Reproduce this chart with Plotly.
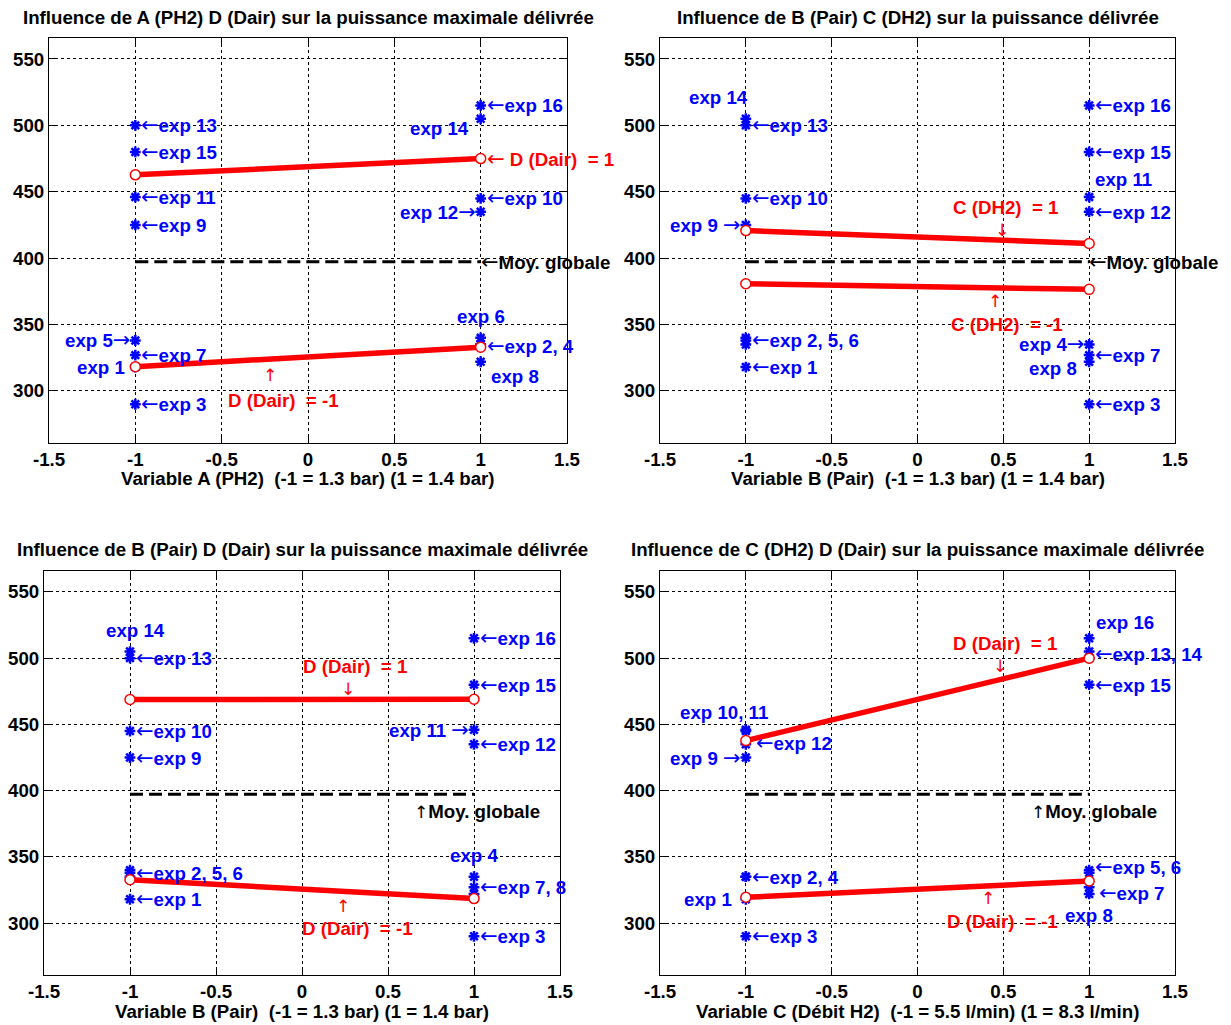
import plotly.graph_objects as go

# ---------------- data ----------------
exp_ids = list(range(1, 17))
puissance = [318, 335, 290, 335, 338, 340, 327, 322,
             425, 445, 446, 435, 500, 505, 480, 515]
fact_A = [-1, 1] * 8
fact_B = [-1, -1, 1, 1] * 4
fact_C = ([-1] * 4 + [1] * 4) * 2
fact_D = [-1] * 8 + [1] * 8
levels = [-1, 1]

titles = [
    "Influence de A (PH2) D (Dair) sur la puissance maximale délivrée",
    "Influence de B (Pair) C (DH2) sur la puissance délivrée",
    "Influence de B (Pair) D (Dair) sur la puissance maximale délivrée",
    "Influence de C (DH2) D (Dair) sur la puissance maximale délivrée",
]
xlabels = [
    "Variable A (PH2) \u00a0(-1 = 1.3 bar) (1 = 1.4 bar)",
    "Variable B (Pair) \u00a0(-1 = 1.3 bar) (1 = 1.4 bar)",
    "Variable B (Pair) \u00a0(-1 = 1.3 bar) (1 = 1.4 bar)",
    "Variable C (Débit H2) \u00a0(-1 = 5.5 l/min) (1 = 8.3 l/min)",
]
xtick_vals = [-1.5, -1, -0.5, 0, 0.5, 1, 1.5]
xtick_text = ["-1.5", "-1", "-0.5", "0", "0.5", "1", "1.5"]
ytick_vals = [300, 350, 400, 450, 500, 550]
ytick_text = ["300", "350", "400", "450", "500", "550"]

panels = [(fact_A, fact_D), (fact_B, fact_C), (fact_B, fact_D), (fact_C, fact_D)]

# ---------------- layout geometry (pixels) ----------------
W, H = 1231, 1025
boxes = [  # left, right, top, bottom
    (49, 567, 38, 443),
    (660, 1175, 38, 443),
    (44, 560, 571, 975),
    (660, 1175, 571, 975),
]
title_y = [17, 17, 549, 549]
xlab_y = [479, 479, 1011, 1011]
YRANGE = [260.8, 565.8]

FONT = "Liberation Sans, Arial, sans-serif"
FS = 18.7
BLUE = "#0000FF"
RED = "#FF0000"

H_STYLE = "font-family:'DejaVu Sans';font-weight:normal;font-size:21px"
V_STYLE = "font-family:'DejaVu Sans';font-weight:normal;font-size:17px"
def arr(ch, style):
    return "<span style=\"%s\">%s</span>" % (style, ch)

L_, R_ = arr("←", H_STYLE), arr("→", H_STYLE)
U_, D_ = arr("↑", V_STYLE), arr("↓", V_STYLE)

P = puissance
def pt(i):
    return P[i - 1]

# labels: (text, x, y, anchor, xshift, color)
labels = [
    [  # panel 1: A vs D
        (L_ + "exp 13", -1, pt(13), "left", 4, BLUE),
        (L_ + "exp 15", -1, pt(15), "left", 4, BLUE),
        (L_ + "exp 11", -1, pt(11), "left", 4, BLUE),
        (L_ + "exp 9", -1, pt(9), "left", 4, BLUE),
        ("exp 5" + R_, -1, pt(5), "right", -3, BLUE),
        (L_ + "exp 7", -1, pt(7), "left", 4, BLUE),
        ("exp 1", -1, pt(1), "right", -8, BLUE),
        (L_ + "exp 3", -1, pt(3), "left", 4, BLUE),
        (L_ + "exp 16", 1, pt(16), "left", 4, BLUE),
        ("exp 14", 0.945, 498, "right", 0, BLUE),
        (L_ + "exp 10", 1, pt(10), "left", 4, BLUE),
        ("exp 12" + R_, 1, pt(12), "right", -3, BLUE),
        ("exp 6", 1, 356, "center", 0, BLUE),
        (L_ + "exp 2, 4", 1, 334, "left", 4, BLUE),
        ("exp 8", 1.05, 311, "left", 0, BLUE),
        (L_ + " D (Dair)\u00a0 = 1", 1, "hi1", "left", 4, RED),
        (U_, -0.22, 312, "center", 0, RED),
        ("D (Dair)\u00a0 = -1", -0.14, 293, "center", 0, RED),
        (L_ + "Moy. globale", 1, "gm", "left", -2, "black"),
    ],
    [  # panel 2: B vs C
        ("exp 14", -1, 521, "right", 4, BLUE),
        (L_ + "exp 13", -1, pt(13), "left", 4, BLUE),
        (L_ + "exp 10", -1, pt(10), "left", 4, BLUE),
        ("exp 9 " + R_, -1, pt(9), "right", -3, BLUE),
        (L_ + "exp 16", 1, pt(16), "left", 4, BLUE),
        (L_ + "exp 15", 1, pt(15), "left", 4, BLUE),
        ("exp 11", 1.02, 459, "left", 0, BLUE),
        (L_ + "exp 12", 1, pt(12), "left", 4, BLUE),
        (L_ + "exp 2, 5, 6", -1, 338, "left", 4, BLUE),
        (L_ + "exp 1", -1, pt(1), "left", 4, BLUE),
        ("exp 4" + R_, 1, pt(4), "right", -3, BLUE),
        (L_ + "exp 7", 1, pt(7), "left", 4, BLUE),
        ("exp 8", 0.94, 317, "right", 0, BLUE),
        (L_ + "exp 3", 1, pt(3), "left", 4, BLUE),
        ("C (DH2)\u00a0 = 1", 0.51, 438, "center", 0, RED),
        (D_, 0.49, 421, "center", 0, RED),
        (U_, 0.45, 368, "center", 0, RED),
        ("C (DH2)\u00a0 = -1", 0.52, 350, "center", 0, RED),
        (L_ + "Moy. globale", 1, "gm", "left", -2, "black"),
    ],
    [  # panel 3: B vs D
        ("exp 14", -0.97, 521, "center", 0, BLUE),
        (L_ + "exp 13", -1, pt(13), "left", 4, BLUE),
        (L_ + "exp 10", -1, pt(10), "left", 4, BLUE),
        (L_ + "exp 9", -1, pt(9), "left", 4, BLUE),
        (L_ + "exp 16", 1, pt(16), "left", 4, BLUE),
        (L_ + "exp 15", 1, pt(15), "left", 4, BLUE),
        ("exp 11 " + R_, 1, pt(11), "right", -3, BLUE),
        (L_ + "exp 12", 1, pt(12), "left", 4, BLUE),
        (L_ + "exp 2, 5, 6", -1, 338, "left", 4, BLUE),
        (L_ + "exp 1", -1, pt(1), "left", 4, BLUE),
        ("exp 4", 1, 351, "center", 0, BLUE),
        (L_ + "exp 7, 8", 1, 327, "left", 4, BLUE),
        (L_ + "exp 3", 1, pt(3), "left", 4, BLUE),
        ("D (Dair)\u00a0 = 1", 0.31, 494, "center", 0, RED),
        (D_, 0.27, 477, "center", 0, RED),
        (U_, 0.24, 313, "center", 0, RED),
        ("D (Dair)\u00a0 = -1", 0.32, 296, "center", 0, RED),
        (U_ + "Moy. globale", 0.64, 384, "left", 0, "black"),
    ],
    [  # panel 4: C vs D
        ("exp 16", 1.03, 527, "left", 0, BLUE),
        (L_ + "exp 13, 14", 1, 503, "left", 4, BLUE),
        (L_ + "exp 15", 1, pt(15), "left", 4, BLUE),
        ("exp 10, 11", -1.13, 459, "center", 0, BLUE),
        (L_ + "exp 12", -1, 436, "left", 8, BLUE),
        ("exp 9 " + R_, -1, pt(9), "right", -3, BLUE),
        (L_ + "exp 2, 4", -1, 335, "left", 4, BLUE),
        ("exp 1", -1, pt(1), "right", -12, BLUE),
        (L_ + "exp 3", -1, pt(3), "left", 4, BLUE),
        (L_ + "exp 5, 6", 1, 342, "left", 4, BLUE),
        (L_ + "exp 7", 1, 322.5, "left", 8, BLUE),
        ("exp 8", 1, 306, "center", 0, BLUE),
        ("D (Dair)\u00a0 = 1", 0.51, 511, "center", 0, RED),
        (D_, 0.48, 494, "center", 0, RED),
        (U_, 0.41, 319, "center", 0, RED),
        ("D (Dair)\u00a0 = -1", 0.495, 301, "center", 0, RED),
        (U_ + "Moy. globale", 0.65, 384, "left", 0, "black"),
    ],
]

def mean(vals):
    return sum(vals) / len(vals)

global_mean = mean(puissance)

fig = go.Figure()
annotations = []

for k, (fx, fl) in enumerate(panels):
    n = "" if k == 0 else str(k + 1)
    xa, ya = "x" + n, "y" + n
    l, r, t, b = boxes[k]
    axis_common = dict(
        showgrid=True, gridcolor="black", griddash="dot", gridwidth=1,
        zeroline=False, showline=True, linecolor="black", linewidth=1,
        mirror="ticks", ticks="inside", ticklen=6, tickcolor="black",
        automargin=False,
        tickfont=dict(family=FONT, size=FS, color="black", weight="bold"),
    )
    fig.layout["xaxis" + n] = dict(
        domain=[l / W, r / W], range=[-1.5, 1.5], anchor=ya,
        tickvals=xtick_vals, ticktext=xtick_text, **axis_common)
    fig.layout["yaxis" + n] = dict(
        domain=[1 - b / H, 1 - t / H], range=YRANGE, anchor=xa,
        tickvals=ytick_vals, ticktext=ytick_text, **axis_common)

    # experiment points
    fig.add_trace(go.Scatter(
        x=fx, y=puissance, mode="markers", xaxis=xa, yaxis=ya,
        marker=dict(symbol="asterisk-open", size=9, color=BLUE,
                    line=dict(color=BLUE, width=2.5)),
        showlegend=False, hoverinfo="skip"))

    # interaction lines (means)
    line_ends = {}
    for lv in levels:
        ys = []
        for xv in levels:
            sel = [p for p, a, d in zip(puissance, fx, fl) if a == xv and d == lv]
            ys.append(mean(sel))
        line_ends[lv] = ys
        fig.add_trace(go.Scatter(
            x=levels, y=ys, mode="lines+markers", xaxis=xa, yaxis=ya,
            line=dict(color=RED, width=5.5),
            marker=dict(symbol="circle", size=10, color="white",
                        line=dict(color=RED, width=1.5)),
            showlegend=False, hoverinfo="skip"))

    # global mean
    fig.add_trace(go.Scatter(
        x=levels, y=[global_mean, global_mean], mode="lines",
        xaxis=xa, yaxis=ya,
        line=dict(color="black", width=3, dash="13px,6px"),
        showlegend=False, hoverinfo="skip"))

    for (txt, x, y, anc, xs, col) in labels[k]:
        if y == "gm":
            y = global_mean
        elif y == "hi1":
            y = line_ends[1][1]
        annotations.append(dict(
            text=txt, x=x, y=y, xref=xa, yref=ya, xanchor=anc,
            yanchor="middle", xshift=xs, showarrow=False,
            font=dict(family=FONT, size=FS, color=col, weight="bold")))

    cx = (l + r) / 2 / W
    annotations.append(dict(
        text=titles[k], x=cx, y=1 - title_y[k] / H, xref="paper", yref="paper",
        xanchor="center", yanchor="middle", showarrow=False,
        font=dict(family=FONT, size=FS, color="black", weight="bold")))
    annotations.append(dict(
        text=xlabels[k], x=cx, y=1 - xlab_y[k] / H, xref="paper", yref="paper",
        xanchor="center", yanchor="middle", showarrow=False,
        font=dict(family=FONT, size=FS, color="black", weight="bold")))

fig.update_layout(
    width=W, height=H, margin=dict(l=0, r=0, t=0, b=0, autoexpand=False),
    paper_bgcolor="white", plot_bgcolor="white",
    annotations=annotations, showlegend=False,
    font=dict(family=FONT, size=FS, color="black"),
)

fig.write_html("out.html", config={"displayModeBar": False},
               post_script="document.body.style.margin='0';")
